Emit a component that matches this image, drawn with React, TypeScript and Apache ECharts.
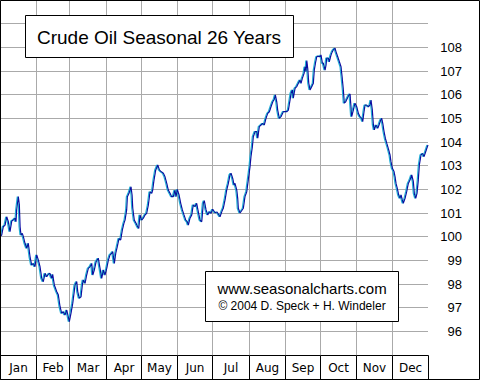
import React, { useEffect, useRef } from "react";
import * as echarts from "echarts";

const titleText = "Crude Oil Seasonal 26 Years";
const siteText = "www.seasonalcharts.com";
const copyText = "© 2004 D. Speck + H. Windeler";

const monthNames = ["Jan", "Feb", "Mar", "Apr", "May", "Jun", "Jul", "Aug", "Sep", "Oct", "Nov", "Dec"];
const monthStart = [0, 31, 59, 90, 120, 151, 181, 212, 243, 273, 304, 334];
const monthEnd = [31, 59, 90, 120, 151, 181, 212, 243, 273, 304, 334, 365];

const days = [
  0, 1.4, 2.8, 4.3, 5.7, 7.1, 8.5, 10.0, 11.3, 12.8, 13.6, 14.2, 15.6, 16.5, 17.1, 17.9, 19.0, 19.9, 21.3, 22.8,
  24.1, 25.6, 27.0, 28.4, 29.8, 31.3, 32.7, 34.1, 35.6, 36.9, 38.4, 39.8, 41.2, 42.6, 44.1, 44.9, 46.3, 48.4, 49.7, 51.2,
  52.6, 54.0, 55.4, 56.9, 58.2, 59.1, 60.5, 62.0, 63.1, 64.0, 65.4, 66.3, 67.6, 69.1, 70.2, 71.0, 72.5, 73.9, 75.3, 76.8,
  78.2, 79.1, 80.4, 81.9, 83.8, 85.3, 86.7, 88.1, 89.5, 91.0, 92.4, 93.8, 95.3, 96.1, 97.5, 98.7, 100.0, 101.5, 102.9, 104.3,
  105.7, 106.6, 108.0, 108.6, 110.0, 110.9, 111.7, 112.6, 113.2, 114.5, 116.0, 117.4, 118.3, 119.4, 120.8, 122.2, 123.7, 125.1, 126.5, 127.9,
  129.4, 130.2, 131.3, 132.8, 134.5, 135.9, 137.3, 139.3, 140.7, 142.2, 143.5, 145.0, 146.4, 147.8, 149.2, 150.1, 151.2, 152.7, 154.1, 155.5,
  156.9, 158.4, 159.7, 160.6, 162.0, 163.5, 164.8, 166.3, 167.7, 169.1, 170.6, 172.0, 173.4, 174.2, 175.7, 177.1, 178.5, 179.9, 181.4, 183.4,
  185.1, 187.6, 189.3, 190.4, 191.9, 193.3, 194.7, 196.1, 197.0, 198.4, 199.6, 200.4, 201.9, 202.7, 203.2, 204.7, 207.5, 208.9, 210.4, 211.7,
  213.2, 214.0, 215.2, 216.0, 217.5, 218.9, 219.8, 221.1, 222.6, 224.0, 225.4, 226.8, 228.3, 229.7, 231.1, 232.6, 233.9, 234.8, 236.0, 236.8,
  238.2, 239.6, 241.6, 244.5, 245.9, 247.3, 248.2, 249.3, 250.1, 251.6, 253.0, 254.4, 255.8, 256.7, 257.8, 259.3, 260.1, 261.0, 261.6, 262.4,
  263.3, 264.4, 265.8, 267.2, 268.0, 269.2, 270.1, 271.4, 272.9, 273.7, 274.9, 275.7, 277.2, 278.0, 278.6, 280.0, 280.8, 282.3, 283.4, 284.2,
  285.7, 286.5, 288.0, 289.4, 290.8, 291.7, 292.8, 293.6, 294.8, 296.2, 297.6, 298.5, 299.9, 301.3, 302.7, 304.2, 305.6, 307.0, 308.5, 309.3,
  310.4, 311.3, 312.7, 314.1, 315.5, 316.4, 317.5, 318.4, 319.2, 320.6, 322.1, 323.2, 324.7, 325.5, 326.4, 327.5, 328.6, 329.8, 331.1, 332.6,
  333.4, 334.6, 336.0, 336.9, 337.7, 338.8, 340.0, 341.1, 342.0, 343.1, 343.9, 345.4, 346.8, 348.2, 349.6, 351.1, 352.5, 353.3, 354.5, 355.6,
  356.7, 357.6, 359.0, 360.5, 361.6, 363.0, 364.4, 365.0,
];

const values = [
  100.0, 100.07, 100.42, 100.49, 100.84, 100.63, 100.21, 100.66, 100.7, 100.78, 100.63, 101.13, 101.69, 101.34, 100.42, 100.07, 100.14, 100.0, 99.72, 99.51,
  99.72, 99.15, 98.8, 98.87, 98.73, 99.23, 99.01, 98.73, 98.24, 98.1, 98.45, 98.31, 98.41, 98.45, 98.24, 98.41, 97.96, 97.67, 97.54, 97.04,
  96.76, 96.83, 96.69, 96.9, 96.62, 96.41, 96.76, 97.18, 97.61, 97.96, 98.1, 97.67, 97.4, 97.46, 97.96, 98.17, 98.03, 98.38, 98.66, 98.73,
  98.87, 98.38, 98.59, 98.94, 99.09, 98.66, 98.24, 98.59, 98.38, 98.66, 99.01, 99.23, 99.3, 99.37, 98.87, 99.3, 99.58, 99.93, 99.86, 100.28,
  100.57, 100.7, 101.13, 101.69, 101.83, 101.97, 102.11, 101.76, 101.2, 100.7, 100.57, 100.42, 100.35, 100.92, 100.7, 100.78, 100.92, 100.99, 101.34, 101.9,
  101.83, 101.97, 102.39, 102.82, 103.03, 102.82, 102.75, 102.68, 102.53, 102.25, 101.97, 101.83, 101.69, 101.69, 101.97, 101.69, 102.0, 101.76, 101.41, 101.13,
  100.92, 100.7, 100.63, 100.49, 100.78, 100.92, 101.34, 101.27, 101.41, 101.05, 100.7, 100.63, 101.41, 101.52, 101.13, 100.92, 101.05, 100.99, 101.16, 101.01,
  101.04, 100.84, 101.08, 101.2, 101.55, 101.97, 102.25, 102.61, 102.68, 102.47, 102.18, 102.25, 101.97, 101.62, 101.2, 101.0, 101.2, 101.69, 101.9, 102.39,
  102.96, 103.38, 103.8, 104.22, 104.44, 104.44, 104.16, 104.65, 104.72, 104.79, 104.72, 105.0, 105.21, 105.28, 105.49, 105.7, 105.8, 105.99, 105.7, 105.35,
  105.0, 105.07, 105.28, 105.28, 105.35, 105.77, 106.06, 106.2, 105.85, 106.27, 106.34, 106.48, 106.62, 106.48, 106.69, 106.9, 107.18, 106.97, 107.44, 107.11,
  106.48, 106.2, 106.34, 106.48, 107.04, 107.39, 107.6, 107.63, 107.6, 107.68, 107.33, 107.33, 107.04, 107.25, 107.54, 107.54, 107.39, 107.68, 107.82, 107.89,
  107.96, 107.82, 107.6, 107.39, 107.18, 106.76, 106.2, 105.64, 105.7, 105.85, 105.99, 106.03, 105.07, 105.35, 105.64, 105.49, 105.21, 105.07, 105.0, 104.86,
  105.28, 105.56, 105.56, 105.49, 105.56, 105.77, 105.35, 104.72, 104.51, 104.72, 104.58, 104.72, 104.93, 105.0, 104.79, 104.44, 104.16, 103.95, 103.73, 103.45,
  103.17, 102.89, 102.75, 102.53, 102.25, 102.04, 101.76, 101.62, 101.76, 101.55, 101.41, 101.62, 101.9, 102.25, 102.39, 102.61, 102.32, 101.83, 101.62, 101.83,
  102.39, 103.03, 103.45, 103.52, 103.38, 103.59, 103.8, 103.87,
];

const yMin = 95;
const yMax = 110;
const yLabelMin = 96;
const yLabelMax = 108;

export default function App() {
  const ref = useRef<HTMLDivElement>(null);

  useEffect(() => {
    document.body.style.margin = "0";
    const chart = echarts.init(ref.current!, null, { renderer: "svg" });
    const lineData = days.map((d, i) => [d, values[i]]);
    const monthData = monthStart.map((s, i) => [s, monthEnd[i]]);

    chart.setOption({
      animation: false,
      backgroundColor: "#ffffff",
      grid: { left: 0, top: 0, width: 428, height: 355, containLabel: false },
      xAxis: {
        type: "value",
        min: 0,
        max: 365,
        axisLine: { show: false },
        axisTick: { show: false },
        axisLabel: { show: false },
        splitLine: { show: false },
      },
      yAxis: {
        type: "value",
        position: "right",
        min: yMin,
        max: yMax,
        interval: 1,
        axisLine: { show: true, lineStyle: { color: "#aaaaaa", width: 1 } },
        axisTick: { show: false },
        axisLabel: {
          show: true,
          align: "right",
          margin: 34,
          color: "#000000",
          fontSize: 13,
          fontFamily: "Liberation Sans, Arial, sans-serif",
          showMinLabel: true,
          showMaxLabel: true,
          formatter: (v: number) => (v >= yLabelMin && v <= yLabelMax ? String(v) : ""),
        },
        splitLine: { show: true, lineStyle: { color: "#aaaaaa", width: 1, type: "solid" } },
      },
      series: [
        {
          type: "custom",
          z: 1,
          clip: false,
          silent: true,
          data: monthData,
          encode: { x: [0, 1] },
          renderItem: (params: any, api: any) => {
            const i = params.dataIndex;
            const s = api.value(0);
            const e = api.value(1);
            const top = api.coord([s, yMax]);
            const bot = api.coord([e, yMin]);
            const x0 = Math.round(top[0]) + 0.5;
            const x1 = Math.round(bot[0]) + 0.5;
            const yTop = Math.round(top[1]);
            const yBot = Math.round(bot[1]) + 0.5;
            const children: any[] = [];
            if (i > 0) {
              children.push({
                type: "line",
                shape: { x1: x0, y1: yTop, x2: x0, y2: yBot },
                style: { stroke: "#aaaaaa", lineWidth: 1 },
              });
            }
            children.push({
              type: "rect",
              shape: { x: x0, y: yBot, width: x1 - x0, height: 24 },
              style: { fill: "#ffffff", stroke: "#000000", lineWidth: 1 },
            });
            children.push({
              type: "text",
              x: (x0 + x1) / 2,
              y: yBot + 12.5,
              style: {
                text: monthNames[i],
                align: "center",
                verticalAlign: "middle",
                fill: "#000000",
                fontSize: 12,
                fontFamily: "DejaVu Sans, sans-serif",
              },
            });
            return { type: "group", children };
          },
        },
        {
          type: "line",
          z: 3,
          data: lineData,
          showSymbol: false,
          symbol: "none",
          lineStyle: {
            color: "#0808a0",
            width: 1.2,
            shadowColor: "#20b0d8",
            shadowBlur: 0,
            shadowOffsetX: -1,
            shadowOffsetY: 0,
          },
        },
      ],
      graphic: [
        {
          type: "rect",
          z: 100,
          shape: { x: 25.5, y: 15.5, width: 268, height: 42 },
          style: { fill: "#ffffff", stroke: "#000000", lineWidth: 1 },
        },
        {
          type: "text",
          z: 101,
          x: 37,
          y: 37,
          style: {
            text: titleText,
            fill: "#000000",
            fontSize: 19,
            fontFamily: "Liberation Sans, Arial, sans-serif",
            verticalAlign: "middle",
            align: "left",
          },
        },
        {
          type: "rect",
          z: 100,
          shape: { x: 205.5, y: 271.5, width: 193, height: 50 },
          style: { fill: "#ffffff", stroke: "#000000", lineWidth: 1 },
        },
        {
          type: "text",
          z: 101,
          x: 302,
          y: 288,
          style: {
            text: siteText,
            fill: "#000000",
            fontSize: 15,
            fontFamily: "Liberation Sans, Arial, sans-serif",
            verticalAlign: "middle",
            align: "center",
          },
        },
        {
          type: "text",
          z: 101,
          x: 302,
          y: 306,
          style: {
            text: copyText,
            fill: "#000000",
            fontSize: 12,
            fontFamily: "Liberation Sans, Arial, sans-serif",
            verticalAlign: "middle",
            align: "center",
          },
        },
        {
          type: "rect",
          z: 102,
          shape: { x: 0.5, y: 0.5, width: 479, height: 379 },
          style: { fill: "none", stroke: "#000000", lineWidth: 1 },
        },
      ],
    });

    return () => {
      chart.dispose();
    };
  }, []);

  return <div ref={ref} style={{ width: 480, height: 380 }} />;
}
